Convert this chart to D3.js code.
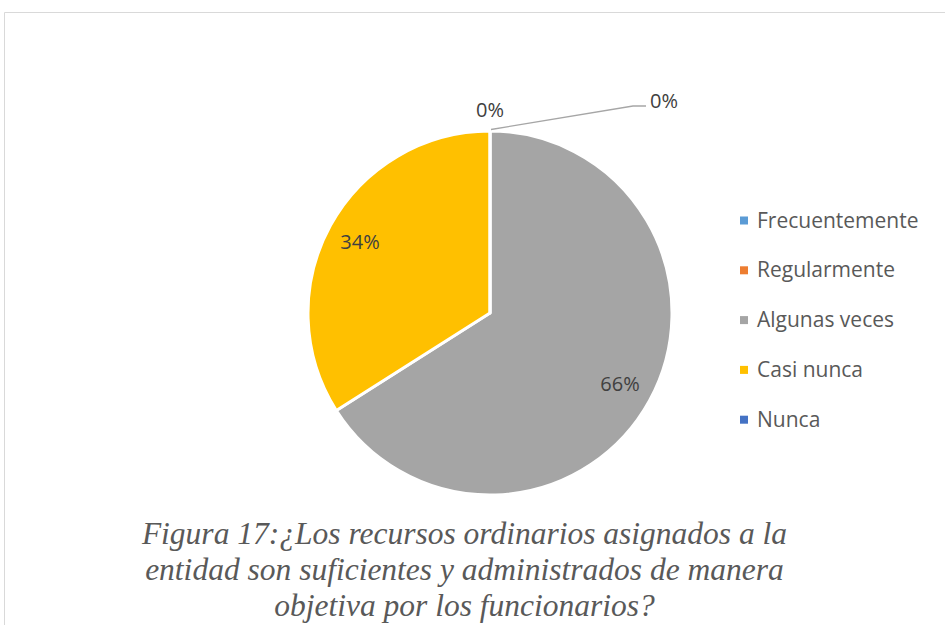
<!DOCTYPE html>
<html><head><meta charset="utf-8">
<script src="https://cdn.jsdelivr.net/npm/d3@7"></script>
<style>body{margin:0;background:#fff}svg{display:block}</style>
</head><body>
<svg id="c" width="945" height="625"></svg>
<script>
const categories = ["Frecuentemente","Regularmente","Algunas veces","Casi nunca","Nunca"];
const values = [0, 0, 66, 34, 0];
const labels = ["0%","0%","66%","34%","0%"];
const colors = ["#5B9BD5","#ED7D31","#A5A5A5","#FFC000","#4472C4"];
const titleLines = ["Figura 17:¿Los recursos ordinarios asignados a la","entidad son suficientes y administrados de manera","objetiva por los funcionarios?"];

const FONT = "'Open Sans', sans-serif";
const svg = d3.select("#c");
// frame
svg.append("path").attr("d","M4.5,640V12.5H960").attr("fill","none").attr("stroke","#d9d9d9").attr("stroke-width",1);

const cx = 490, cy = 313, r = 182;
const g = svg.append("g").attr("transform",`translate(${cx},${cy})`);
const data = categories.map((c,i)=>({c,v:values[i],l:labels[i],col:colors[i]}));
const pie = d3.pie().value(d=>d.v).sort(null);
const arcs = pie(data);
const arc = d3.arc().innerRadius(0).outerRadius(r);
g.selectAll("path.s").data(arcs).join("path").attr("class","s")
  .attr("d",arc).attr("fill",d=>d.data.col).attr("stroke","#fff").attr("stroke-width",3).attr("stroke-linejoin","round");

const inner = d3.arc().innerRadius(r*0.815).outerRadius(r*0.815);
const textStyle = s=>s.attr("font-family",FONT).attr("font-size",20).attr("fill","#404040").attr("text-anchor","middle");
arcs.forEach((a,i)=>{
  if(a.data.v>0){
    const [x,y]=inner.centroid(a);
    g.append("text").attr("x",x).attr("y",y+7).text(a.data.l).call(textStyle);
  }
});
// zero labels
const a0 = arcs[0];
const p0 = d3.pointRadial(a0.startAngle, r+1);
g.append("text").attr("x",p0[0]).attr("y",p0[1]-13).text(a0.data.l).call(textStyle);
const a1 = arcs[1];
const s1 = d3.pointRadial(a1.startAngle, r+1.5);
const e1 = [s1[0]+143, s1[1]-23.5];
g.append("polyline").attr("points",[[s1[0]+1,s1[1]],e1,[e1[0]+13,e1[1]]].map(p=>p.join(",")).join(" "))
  .attr("fill","none").attr("stroke","#a6a6a6").attr("stroke-width",1.3);
g.append("text").attr("x",e1[0]+17).attr("y",e1[1]+2).text(a1.data.l).call(textStyle).attr("text-anchor","start");

// legend
const lg = svg.append("g").attr("transform","translate(740,220.5)");
data.forEach((d,i)=>{
  const row = lg.append("g").attr("transform",`translate(0,${i*49.8})`);
  row.append("rect").attr("x",0).attr("y",-4).attr("width",8).attr("height",8).attr("fill",d.col);
  row.append("text").attr("x",17).attr("y",7).attr("font-family",FONT).attr("font-size",21).attr("fill","#595959").text(d.c);
});

// title
titleLines.forEach((t,i)=>{
  svg.append("text").attr("x",464.5).attr("y",544+i*36).attr("text-anchor","middle")
    .attr("font-family","'Liberation Serif', serif").attr("font-style","italic").attr("font-size",31.5)
    .attr("fill","#595959").text(t);
});
</script>
</body></html>
